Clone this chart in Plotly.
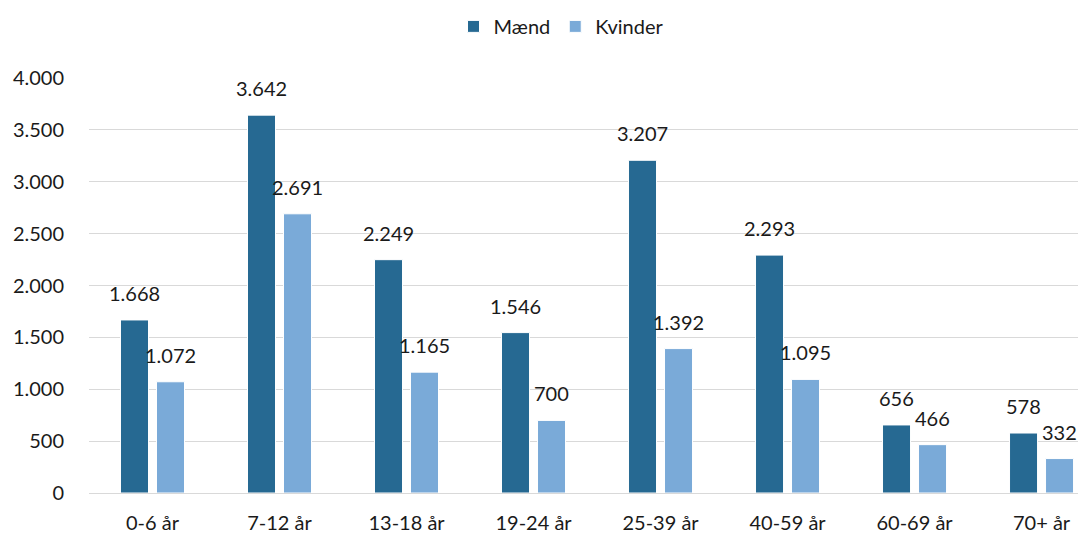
"""Grouped bar chart: Mænd vs Kvinder by age group."""

import plotly.graph_objects as go

AGE_GROUPS = ["0-6 år", "7-12 år", "13-18 år", "19-24 år",
              "25-39 år", "40-59 år", "60-69 år", "70+ år"]
MEN = [1668, 3642, 2249, 1546, 3207, 2293, 656, 578]
WOMEN = [1072, 2691, 1165, 700, 1392, 1095, 466, 332]

MEN_COLOR = "#266992"
WOMEN_COLOR = "#7AAAD8"
GRID_COLOR = "#D9D9D9"
FONT = dict(family="Lato, 'Open Sans', sans-serif", size=20, color="#1a1a1a")


def fmt(v: int) -> str:
    """Danish thousands separator."""
    return f"{v:,}".replace(",", ".")


fig = go.Figure()
fig.add_trace(go.Bar(
    x=AGE_GROUPS, y=MEN, name="Mænd",
    marker=dict(color=MEN_COLOR, line=dict(color="white", width=1)),
))
fig.add_trace(go.Bar(
    x=AGE_GROUPS, y=WOMEN, name="Kvinder",
    marker=dict(color=WOMEN_COLOR, line=dict(color="white", width=1)),
))

# data labels above each bar
for cat, m, w in zip(AGE_GROUPS, MEN, WOMEN):
    for val, shift in ((m, -18), (w, 18)):
        fig.add_annotation(
            x=cat, y=val, text=fmt(val), showarrow=False,
            xshift=shift, yshift=13, yanchor="bottom", font=FONT,
        )

# page body keeps an 8px margin, so the figure is sized to fit inside it
fig.update_layout(
    barmode="group",
    bargap=0.433,
    bargroupgap=0.222,
    width=1078,
    height=525,
    margin=dict(l=81, r=0, t=70, b=40, autoexpand=False),
    plot_bgcolor="white",
    paper_bgcolor="white",
    font=FONT,
    legend=dict(
        orientation="h",
        xref="container", yref="container",
        x=0.513, y=0.965, xanchor="center", yanchor="middle",
        font=FONT,
    ),
    xaxis=dict(
        range=[-0.5, 7.35],
        showgrid=False,
        showline=False,
        ticks="outside", ticklen=12, tickcolor="rgba(0,0,0,0)",
    ),
    yaxis=dict(
        range=[0, 4000],
        tickvals=list(range(0, 4001, 500)),
        ticktext=[fmt(v) for v in range(0, 4001, 500)],
        showgrid=True, gridcolor=GRID_COLOR, gridwidth=1,
        zeroline=True, zerolinecolor=GRID_COLOR, zerolinewidth=1,
        showline=False,
        ticks="outside", ticklen=20, tickcolor="rgba(0,0,0,0)",
    ),
)

fig.write_html("out.html")
